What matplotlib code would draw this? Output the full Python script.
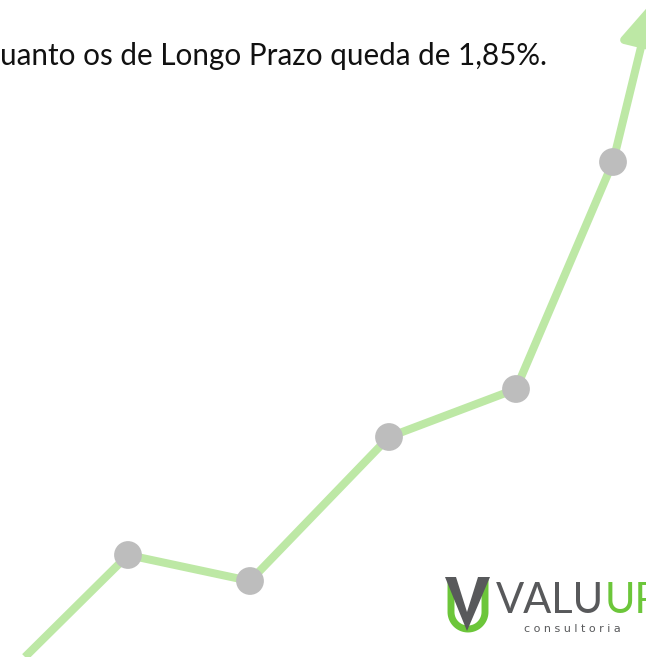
import numpy as np
import matplotlib
matplotlib.use('Agg')
import matplotlib.pyplot as plt
from matplotlib.patches import Polygon

# trend points (pixel-like units, y grows downward)
pt_x=[25, 128, 250, 389, 516, 613]
pt_y=[657, 555, 581, 437, 389, 162]
dot_x=pt_x[1:]
dot_y=pt_y[1:]
arrow_tip=(652, 2)

caption='uanto os de Longo Prazo queda de 1,85%.'
brand_dark='VALU'
brand_green='UP'
brand_sub='consultoria'

green='#bde8a5'
grey_dot='#bdbdbd'
logo_green='#6cc63a'
logo_grey='#58595b'

fig=plt.figure(figsize=(6.46,6.57),dpi=100)
ax=fig.add_axes([0,0,1,1])
ax.set_xlim(0,646)
ax.set_ylim(657,0)
ax.axis('off')

# the trend line
ax.plot(pt_x,pt_y,color=green,lw=5.8,solid_capstyle='butt',zorder=2)
ax.annotate('',xy=arrow_tip,xytext=(pt_x[-1],pt_y[-1]),annotation_clip=False,
            arrowprops=dict(arrowstyle='-|>,head_length=2.5,head_width=1.3',
                            color=green,lw=5.8,shrinkA=0,shrinkB=0),zorder=2)
ax.scatter(dot_x,dot_y,s=400,color=grey_dot,zorder=3,edgecolors='none')

# caption at the top
ax.text(0,65,caption,fontsize=21.3,family='Lato',color='#111111',va='baseline',ha='left')

# logo
t=np.linspace(np.pi,2*np.pi,40)
ux=np.concatenate([[451],468+17*np.cos(t),[485]])
uy=np.concatenate([[580],612-17*np.sin(t),[580]])
ax.plot(ux,uy,color=logo_green,lw=5,solid_capstyle='butt',zorder=4)
ax.add_patch(Polygon([[445,577],[456,577],[467,612],[478,577],[490,577],[467,631]],
                     closed=True,color=logo_grey,zorder=5,lw=0))
t1=ax.text(496,613,brand_dark,fontsize=30,family='Lato',
           color=logo_grey,va='baseline',ha='left')
fig.canvas.draw()
bb=t1.get_window_extent()
x_up=ax.transData.inverted().transform((bb.x1+1,bb.y0))[0]
ax.text(x_up,613,brand_green,fontsize=30,family='Lato',
        color=logo_green,va='baseline',ha='left')
ax.text(524,632,' '.join(list(brand_sub)),fontsize=8,family='DejaVu Sans',
        color=logo_grey,va='baseline',ha='left')

plt.savefig('out.png',dpi=100)
